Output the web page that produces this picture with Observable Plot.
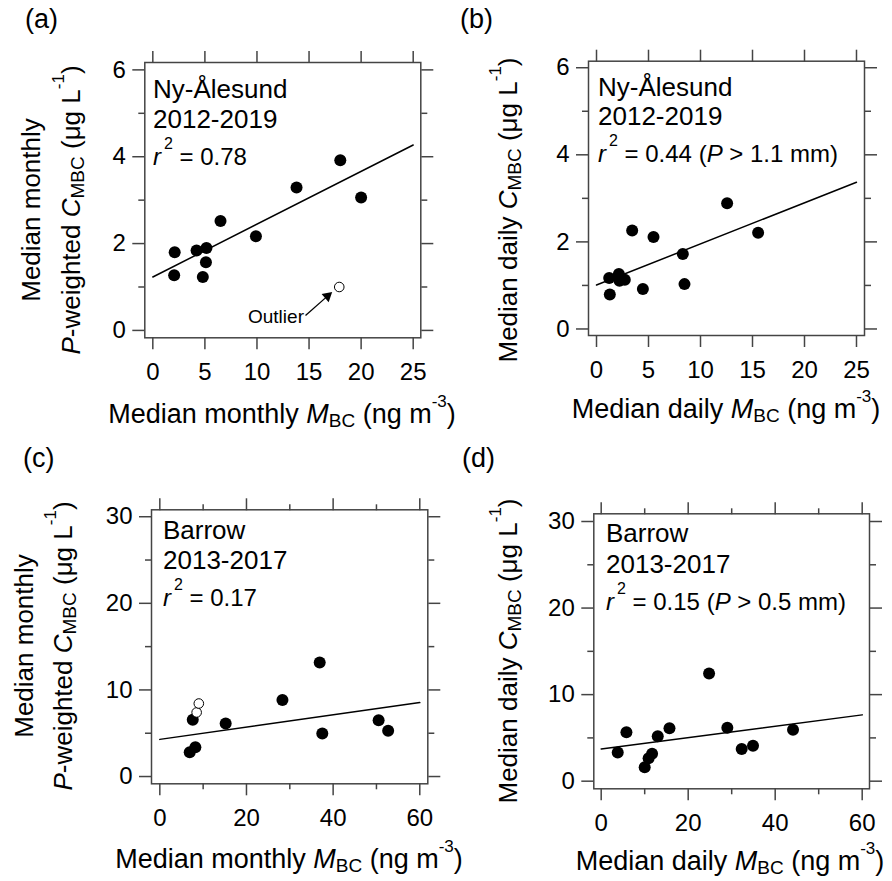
<!DOCTYPE html>
<html><head><meta charset="utf-8">
<script src="https://cdn.jsdelivr.net/npm/d3@7"></script>
<script src="https://cdn.jsdelivr.net/npm/@observablehq/plot@0.6"></script>
<style>
body{margin:0;background:#fff;}
#chart{position:relative;width:892px;height:881px;font-family:"Liberation Sans",Arial,sans-serif;}
#chart > svg{position:absolute;left:0;top:0;}
</style></head><body><div id="chart"></div>
<script>
// ---------- data ----------
// (a) Ny-Ålesund, monthly
const aX = [2.1, 2.05, 4.2, 5.15, 5.1, 4.8, 6.5, 9.9, 13.8, 18.0, 20.0];
const aY = [1.80, 1.27, 1.84, 1.90, 1.57, 1.23, 2.52, 2.17, 3.29, 3.92, 3.06];
const aOutX = [17.9];
const aOutY = [1.0];
const aFitX = [0, 25];
const aFitY = [1.23, 4.27];
const aArrow = {x1: 14.66, y1: 0.345, x2: 16.77, y2: 0.79};
const aArrowHead = {x: 16.77, y: 0.79, angle: 49};
// (b) Ny-Ålesund, daily
const bX = [1.22, 1.28, 2.15, 2.21, 2.72, 3.43, 4.46, 5.48, 8.30, 8.46, 12.56, 15.54];
const bY = [1.17, 0.79, 1.26, 1.11, 1.13, 2.26, 0.92, 2.11, 1.72, 1.03, 2.89, 2.21];
const bFitX = [0, 25];
const bFitY = [1.01, 3.37];
// (c) Barrow, monthly
const cX = [7.6, 6.9, 8.2, 15.2, 28.3, 36.9, 37.5, 50.5, 52.7];
const cY = [6.55, 2.79, 3.37, 6.13, 8.85, 13.18, 4.98, 6.51, 5.29];
const cOutX = [8.5, 9.0];
const cOutY = [7.4, 8.43];
const cFitX = [0, 60];
const cFitY = [4.29, 8.54];
// (d) Barrow, daily
const dX = [3.8, 5.8, 10.0, 10.9, 11.7, 13.0, 15.7, 24.8, 29.0, 32.3, 34.9, 44.1];
const dY = [3.31, 5.66, 1.62, 2.66, 3.16, 5.20, 6.12, 12.44, 6.16, 3.73, 4.08, 5.93];
const dFitX = [0, 60];
const dFitY = [3.73, 7.66];

// tick values
const ticksNyX = [0, 5, 10, 15, 20, 25];
const ticksNyY = [0, 2, 4, 6];
const minorNyY = [1, 3, 5];
const ticksBaX = [0, 20, 40, 60];
const minorBaX = [10, 30, 50];
const ticksBaY = [0, 10, 20, 30];
const minorBaY = [5, 15, 25];

// texts
const panelLabels = ["(a)", "(b)", "(c)", "(d)"];
const siteNy = ["Ny-Ålesund", "2012-2019"];
const siteBa = ["Barrow", "2013-2017"];

const FONT = '"Liberation Sans", Arial, Helvetica, sans-serif';
const W = 892, H = 881;
const MAJOR = 12, MINOR = 6;
const INK = "#444444", SW = 1.5;

const tbl = (X, Y) => X.map((x, i) => ({x, y: Y[i]}));

function richText(sel, segs) {
  segs.forEach((s, k) => {
    const t = sel.append("tspan").text(s.t);
    if (s.i) t.attr("font-style", "italic");
    let dy = 0;
    if (k > 0) {
      const p = segs[k - 1];
      if (p.sub) dy -= p.dy;
      if (p.sup) dy += p.dy;
    }
    if (s.sub) { t.attr("font-size", s.fs || 19); dy += s.dy; }
    if (s.sup) { t.attr("font-size", s.fs || 17); dy -= s.dy; if (s.dx) t.attr("dx", s.dx); }
    if (dy) t.attr("dy", dy);
  });
}

function panel(cfg) {
  const f = cfg.frame, xd = cfg.xDomain, yd = cfg.yDomain;
  const tk = (anchor, vals, size) => (anchor === "top" || anchor === "bottom" ? Plot.axisX : Plot.axisY)(vals, {anchor, tickSize: size, tickFormat: () => "", label: null, stroke: INK, strokeWidth: SW});
  const marks = [
    Plot.frame({stroke: INK, strokeWidth: SW}),
    tk("bottom", cfg.xTicks, MAJOR), tk("top", cfg.xTicks, MAJOR),
    tk("left", cfg.yTicks, MAJOR), tk("right", cfg.yTicks, MAJOR),
    tk("left", cfg.yMinor, MINOR), tk("right", cfg.yMinor, MINOR),
    Plot.axisX(cfg.xTicks, {anchor: "bottom", tickSize: 0, tickPadding: MAJOR + 13, fontSize: 24, label: null}),
    Plot.axisY(cfg.yTicks, {anchor: "left", tickSize: 0, tickPadding: MAJOR + 7, fontSize: 24, label: null}),
    Plot.line(cfg.fit, {x: "x", y: "y", stroke: "black", strokeWidth: 1.5}),
    Plot.dot(cfg.pts, {x: "x", y: "y", r: 6, fill: "black", stroke: "none"})
  ];
  if (cfg.xMinor) marks.push(tk("bottom", cfg.xMinor, MINOR), tk("top", cfg.xMinor, MINOR));
  if (cfg.open) marks.push(Plot.dot(cfg.open, {x: "x", y: "y", r: 4.8, fill: "white", stroke: "black", strokeWidth: 1}));
  if (cfg.arrow) {
    marks.push(Plot.link([cfg.arrow], {x1: "x1", y1: "y1", x2: "x2", y2: "y2", stroke: "black", strokeWidth: 1.3}));
    marks.push(Plot.dot([cfg.arrowHead], {x: "x", y: "y", symbol: "triangle", r: 4, rotate: "angle", fill: "black", stroke: "none"}));
  }

  const svg = Plot.plot({
    width: W, height: H,
    marginLeft: f.l, marginRight: W - f.r, marginTop: f.t, marginBottom: H - f.b,
    x: {domain: xd},
    y: {domain: yd},
    style: {background: "transparent", overflow: "visible", fontFamily: FONT, color: "black"},
    marks
  });
  const s = d3.select(svg);
  const g = s.append("g").attr("font-family", FONT).attr("fill", "black").attr("text-anchor", "start");
  g.append("text").attr("x", cfg.lab.x).attr("y", cfg.lab.y).attr("font-size", 27).text(cfg.label);
  cfg.site.forEach((t, i) => {
    g.append("text").attr("x", cfg.ann.x).attr("y", cfg.ann.ys[i]).attr("font-size", 26).text(t);
  });
  richText(g.append("text").attr("x", cfg.ann.x).attr("y", cfg.ann.ys[2]).attr("font-size", 24), cfg.r2);
  richText(g.append("text").attr("x", cfg.xt.x).attr("y", cfg.xt.y).attr("text-anchor", "middle").attr("font-size", 27), cfg.xTitle);
  cfg.yTitle.forEach((segs, i) => {
    richText(g.append("text").attr("transform", `translate(${cfg.yt.xs[i]},${cfg.yt.y}) rotate(-90)`).attr("text-anchor", "middle").attr("font-size", 26), segs);
  });
  if (cfg.outlier) {
    g.append("text").attr("x", cfg.outlier.x).attr("y", cfg.outlier.y).attr("font-size", 19).text("Outlier");
  }
  document.getElementById("chart").appendChild(svg);
}

const r2 = (v, extra) => {
  const s = [{t: "r", i: true}, {t: "2", sup: true, fs: 16, dy: 16, dx: 3}, {t: " = " + v}];
  if (extra) s.push({t: " ("}, {t: "P", i: true}, {t: " > " + extra + ")"});
  return s;
};
const xTitle = (w) => [{t: "Median " + w + " "}, {t: "M", i: true}, {t: "BC", sub: true, dy: 4}, {t: " (ng m"}, {t: "-3", sup: true, dy: 16}, {t: ")"}];
const yCMBC = (pre) => [{t: pre}, {t: "C", i: true}, {t: "MBC", sub: true, dy: 4}, {t: " (μg L"}, {t: "-1", sup: true, dy: 16}, {t: ")"}];
const yTitleMonthly = [[{t: "Median monthly"}], [{t: "P", i: true}].concat(yCMBC("-weighted "))];
const yTitleDaily = [yCMBC("Median daily ")];

panel({
  label: panelLabels[0], lab: {x: 25, y: 28},
  frame: {l: 144.3, r: 420.3, t: 62, b: 337.3},
  xDomain: [-0.77, 25.73], yDomain: [-0.17, 6.17],
  xTicks: ticksNyX, yTicks: ticksNyY, yMinor: minorNyY,
  pts: tbl(aX, aY), open: tbl(aOutX, aOutY), fit: tbl(aFitX, aFitY), arrow: aArrow, arrowHead: aArrowHead,
  outlier: {x: 248, y: 323},
  site: siteNy, ann: {x: 153, ys: [98.3, 128.3, 165]}, r2: r2("0.78"),
  xTitle: xTitle("monthly"), xt: {x: 282, y: 423},
  yTitle: yTitleMonthly, yt: {xs: [40, 80], y: 210}
});
panel({
  label: panelLabels[1], lab: {x: 460, y: 28},
  frame: {l: 588, r: 864, t: 60.7, b: 335},
  xDomain: [-0.77, 25.77], yDomain: [-0.15, 6.15],
  xTicks: ticksNyX, yTicks: ticksNyY, yMinor: minorNyY,
  pts: tbl(bX, bY), fit: tbl(bFitX, bFitY),
  site: siteNy, ann: {x: 598, ys: [95.7, 125, 162.3]}, r2: r2("0.44", "1.1 mm"),
  xTitle: xTitle("daily"), xt: {x: 726, y: 418},
  yTitle: yTitleDaily, yt: {xs: [517], y: 210}
});
panel({
  label: panelLabels[2], lab: {x: 23, y: 467},
  frame: {l: 151, r: 427.3, t: 509.3, b: 783.3},
  xDomain: [-1.92, 61.85], yDomain: [-0.84, 30.8],
  xTicks: ticksBaX, xMinor: minorBaX, yTicks: ticksBaY, yMinor: minorBaY,
  pts: tbl(cX, cY), open: tbl(cOutX, cOutY), fit: tbl(cFitX, cFitY),
  site: siteBa, ann: {x: 163, ys: [539.3, 569.3, 605.7]}, r2: r2("0.17"),
  xTitle: xTitle("monthly"), xt: {x: 289, y: 868},
  yTitle: yTitleMonthly, yt: {xs: [33, 72], y: 646}
});
panel({
  label: panelLabels[3], lab: {x: 462, y: 467},
  frame: {l: 593.3, r: 869, t: 513.3, b: 788.3},
  xDomain: [-1.70, 61.68], yDomain: [-0.88, 30.89],
  xTicks: ticksBaX, xMinor: minorBaX, yTicks: ticksBaY, yMinor: minorBaY,
  pts: tbl(dX, dY), fit: tbl(dFitX, dFitY),
  site: siteBa, ann: {x: 606, ys: [542.3, 573.3, 610]}, r2: r2("0.15", "0.5 mm"),
  xTitle: xTitle("daily"), xt: {x: 730, y: 870},
  yTitle: yTitleDaily, yt: {xs: [517], y: 651}
});
</script></body></html>
